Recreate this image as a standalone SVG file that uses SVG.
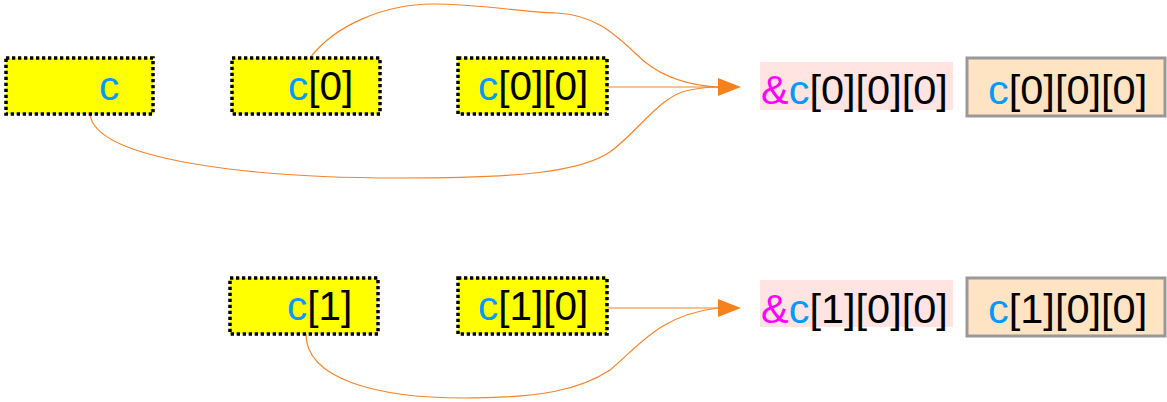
<svg xmlns="http://www.w3.org/2000/svg" width="1167" height="402" viewBox="0 0 1167 402">
<style>
.y{fill:#ffff00;stroke:#000;stroke-width:3.5;stroke-dasharray:3.3,2.7}
.b{fill:#ffe4c4;stroke:#999;stroke-width:3}
.p{fill:#ffe4e1}
text{font-family:"Liberation Sans",Arial,sans-serif;fill:#000}
.t1{font-size:40.5px}
.t2{font-size:41.5px}
.c{fill:#0099ff}
.a{fill:#ff00ff}
.e{fill:none;stroke:#f5842a;stroke-width:1.2}
.h{fill:#f5821f}
</style>
<rect width="1167" height="402" fill="#fff"/>
<g id="edges">
<path class="e" d="M310,58 C335,25 385,4 433,4 C480,4 520,12 557,13 C600,15 620,40 645,62 C670,82 700,86 718,87"/>
<path class="e" d="M607,87 L718,87"/>
<path class="e" d="M90,114 C95,160 250,178 400,178 C520,178 580,172 610,152 C640,130 660,95 690,90 C700,88 710,87 718,87"/>
<polygon class="h" points="718,78 741,87 718,96"/>
<path class="e" d="M607,308 L718,308"/>
<path class="e" d="M306,334 C306,380 380,398 463,398 C540,398 580,390 610,370 C640,345 660,315 718,308"/>
<polygon class="h" points="718,299 741,308 718,317"/>
</g>
<g id="n_c"><rect class="y" x="6" y="58" width="147" height="56"/><text class="t1" x="99" y="100"><tspan class="c">c</tspan></text></g>
<g id="n_c0"><rect class="y" x="232" y="58" width="148" height="56"/><text class="t1" x="288" y="100"><tspan class="c">c</tspan>[0]</text></g>
<g id="n_c00"><rect class="y" x="458" y="58" width="149" height="56"/><text class="t1" x="478" y="100"><tspan class="c">c</tspan>[0][0]</text></g>
<g id="n_addr0"><rect class="p" x="760" y="62" width="193" height="48"/><text class="t2" x="761" y="104"><tspan class="a">&amp;</tspan><tspan class="c">c</tspan>[0][0][0]</text></g>
<g id="n_val0"><rect class="b" x="967" y="58" width="198" height="58"/><text class="t2" x="988" y="104"><tspan class="c">c</tspan>[0][0][0]</text></g>
<g id="n_c1"><rect class="y" x="230" y="278" width="148" height="56"/><text class="t1" x="287" y="320"><tspan class="c">c</tspan>[1]</text></g>
<g id="n_c10"><rect class="y" x="458" y="278" width="149" height="56"/><text class="t1" x="478" y="320"><tspan class="c">c</tspan>[1][0]</text></g>
<g id="n_addr1"><rect class="p" x="760" y="280" width="193" height="47"/><text class="t2" x="761" y="323"><tspan class="a">&amp;</tspan><tspan class="c">c</tspan>[1][0][0]</text></g>
<g id="n_val1"><rect class="b" x="967" y="278" width="198" height="58"/><text class="t2" x="988" y="323"><tspan class="c">c</tspan>[1][0][0]</text></g>
</svg>
